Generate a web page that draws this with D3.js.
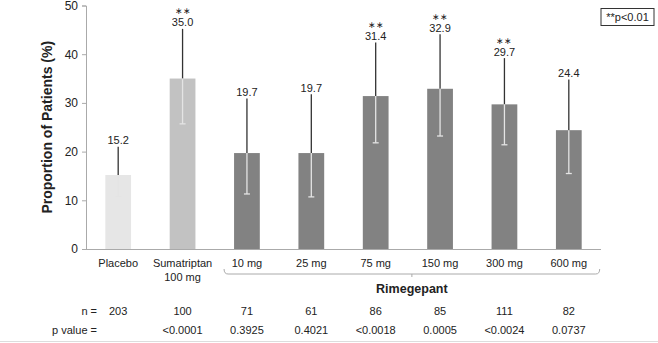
<!DOCTYPE html>
<html><head><meta charset="utf-8">
<script src="https://cdn.jsdelivr.net/npm/d3@7"></script>
<style>
body{margin:0;background:#fff;}
text{font-family:"Liberation Sans",Arial,sans-serif;fill:#222;}
</style></head>
<body><svg id="c" width="658" height="343"></svg>
<script>
const categories = ["Placebo","Sumatriptan\n100 mg","10 mg","25 mg","75 mg","150 mg","300 mg","600 mg"];
const values = [15.2,35.0,19.7,19.7,31.4,32.9,29.7,24.4];
const upper = [21.0,45.2,30.9,31.8,42.4,44.1,39.2,34.8];
const lower = [10.8,25.7,11.3,10.7,21.8,23.2,21.4,15.5];
const signif = [false,true,false,false,true,true,true,false];
const nValues = ["203","100","71","61","86","85","111","82"];
const pValues = ["","<0.0001","0.3925","0.4021","<0.0018","0.0005","<0.0024","0.0737"];
const groups = ["placebo","suma","rime","rime","rime","rime","rime","rime"];
const yTicks = [0,10,20,30,40,50];

const colors = {placebo:"#e6e6e6", suma:"#c2c2c2", rime:"#828282"};
const svg = d3.select("#c");
const x = d3.scaleBand().domain(d3.range(categories.length)).range([86,601]).paddingInner(0.6).paddingOuter(0.3);
const y = d3.scaleLinear().domain([0,50]).range([249,5.5]);

// bottom border
svg.append("line").attr("x1",0).attr("x2",658).attr("y1",341.5).attr("y2",341.5).attr("stroke","#ddd");

// y axis
const ya = svg.append("g").attr("transform","translate(86,0)")
  .call(d3.axisLeft(y).tickValues(yTicks).tickSize(4).tickPadding(4));
ya.select(".domain").attr("stroke","#aaa");
ya.selectAll(".tick line").attr("stroke","#aaa");
ya.selectAll(".tick text").attr("font-size",12).attr("fill","#222").style("font-family","Liberation Sans, Arial, sans-serif");

// x axis line
svg.append("line").attr("x1",86).attr("x2",601).attr("y1",y(0)+0.5).attr("y2",y(0)+0.5).attr("stroke","#aaa");

// y label
svg.append("text").attr("transform",`translate(52,${y(25)}) rotate(-90)`)
  .attr("text-anchor","middle").attr("font-size",14).attr("font-weight","bold").text("Proportion of Patients (%)");

const idx = d3.range(categories.length);
// bars
svg.selectAll("rect.bar").data(idx).join("rect")
  .attr("x",i=>x(i)).attr("width",x.bandwidth())
  .attr("y",i=>y(values[i])).attr("height",i=>y(0)-y(values[i]))
  .attr("fill",i=>colors[groups[i]]);

// error bars upper (dark)
svg.selectAll("line.up").data(idx).join("line")
  .attr("x1",i=>x(i)+x.bandwidth()/2).attr("x2",i=>x(i)+x.bandwidth()/2)
  .attr("y1",i=>y(upper[i])).attr("y2",i=>y(values[i]))
  .attr("stroke","#333").attr("stroke-width",1.3);
// lower (light)
svg.selectAll("line.lo").data(idx).join("line")
  .attr("x1",i=>x(i)+x.bandwidth()/2).attr("x2",i=>x(i)+x.bandwidth()/2)
  .attr("y1",i=>y(values[i])).attr("y2",i=>y(lower[i]))
  .attr("stroke","#e4e4e4").attr("stroke-width",1.3);
svg.selectAll("line.cap").data(idx).join("line")
  .attr("x1",i=>x(i)+x.bandwidth()/2-3).attr("x2",i=>x(i)+x.bandwidth()/2+3)
  .attr("y1",i=>y(lower[i])).attr("y2",i=>y(lower[i]))
  .attr("stroke","#e4e4e4").attr("stroke-width",1.3);

// value labels
svg.selectAll("text.val").data(idx).join("text")
  .attr("x",i=>x(i)+x.bandwidth()/2).attr("y",i=>y(upper[i])-2.5)
  .attr("text-anchor","middle").attr("font-size",11).text(i=>values[i].toFixed(1));
svg.selectAll("text.star").data(idx.filter(i=>signif[i])).join("text")
  .attr("x",i=>x(i)+x.bandwidth()/2).attr("y",i=>y(upper[i])-14.5)
  .attr("text-anchor","middle").attr("font-size",9).text("\u2217\u2217");

// category labels
idx.forEach(i=>{
  const lines = categories[i].split("\n");
  const t = svg.append("text").attr("x",x(i)+x.bandwidth()/2).attr("y",267).attr("text-anchor","middle").attr("font-size",11);
  lines.forEach((l,k)=>t.append("tspan").attr("x",x(i)+x.bandwidth()/2).attr("dy",k?14:0).text(l));
});

// bracket for Rimegepant
const bx1 = x(2)-10, bx2 = x(7)+x.bandwidth()+18, by = 274;
const bmid = (bx1+bx2)/2;
svg.append("path").attr("d",`M${bx1},${by-5}Q${bx1},${by} ${bx1+4},${by}L${bx2-4},${by}Q${bx2},${by} ${bx2},${by-5}M${bmid},${by}L${bmid},${by+3}`)
  .attr("fill","none").attr("stroke","#aaa");
svg.append("text").attr("x",bmid).attr("y",293).attr("text-anchor","middle").attr("font-size",12.5).attr("font-weight","bold").text("Rimegepant");

// n row and p row
svg.append("text").attr("x",97).attr("y",315).attr("text-anchor","end").attr("font-size",11).text("n =");
svg.append("text").attr("x",97).attr("y",334).attr("text-anchor","end").attr("font-size",11).text("p value =");
svg.selectAll("text.n").data(idx).join("text")
  .attr("x",i=>x(i)+x.bandwidth()/2).attr("y",315).attr("text-anchor","middle").attr("font-size",11).text(i=>nValues[i]);
svg.selectAll("text.p").data(idx).join("text")
  .attr("x",i=>x(i)+x.bandwidth()/2).attr("y",334).attr("text-anchor","middle").attr("font-size",11).text(i=>pValues[i]);

// legend box
svg.append("rect").attr("x",601).attr("y",8.5).attr("width",53).attr("height",17).attr("fill","#fff").attr("stroke","#333");
svg.append("text").attr("x",627.5).attr("y",21).attr("text-anchor","middle").attr("font-size",11).text("**p<0.01");
</script></body></html>
